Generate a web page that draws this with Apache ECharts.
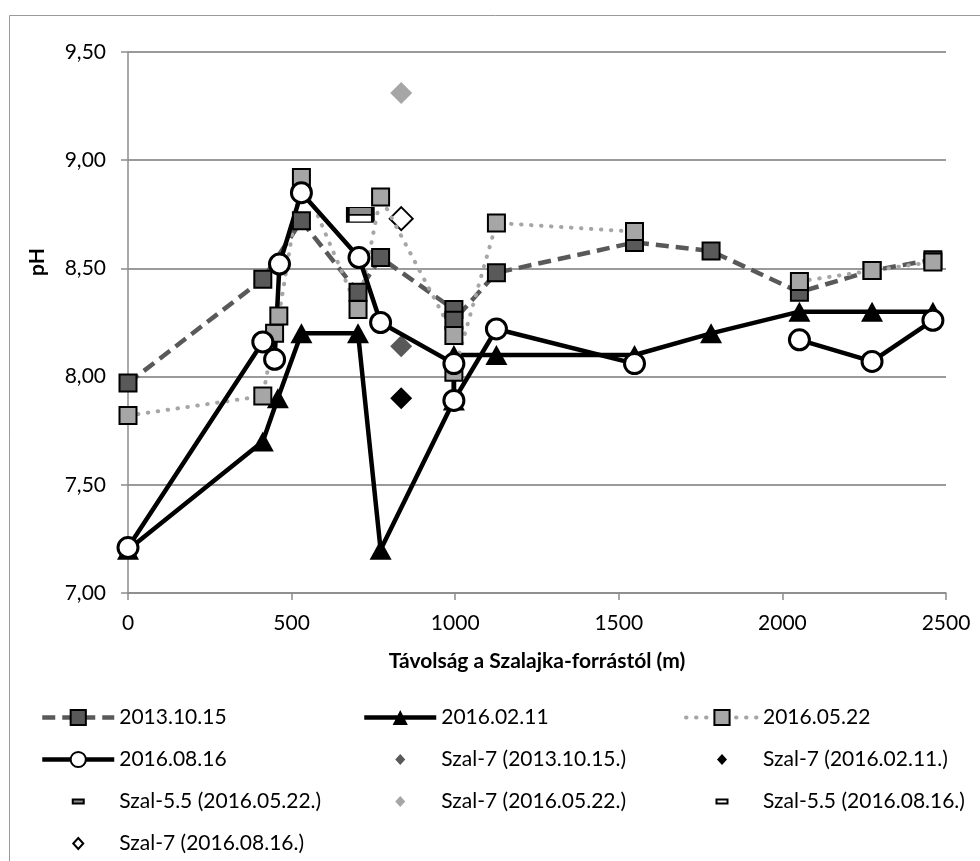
<!DOCTYPE html>
<html>
<head>
<meta charset="utf-8">
<script src="https://cdn.jsdelivr.net/npm/echarts@6/dist/echarts.min.js"></script>
<style>
html,body{margin:0;padding:0;background:#fff;}
#chart{width:980px;height:861px;}
</style>
</head>
<body>
<div id="chart"></div>
<script>
// ---- data (distance from Szalajka spring in m, pH) ----
const xTicks = [0, 500, 1000, 1500, 2000, 2500];
const yTicks = [7.0, 7.5, 8.0, 8.5, 9.0, 9.5];

const dist2013 = [0, 412, 530, 703, 772, 996, 996, 1126, 1548, 1782, 2052, 2274, 2460];
const ph2013   = [7.97, 8.45, 8.72, 8.39, 8.55, 8.31, 8.26, 8.48, 8.62, 8.58, 8.39, 8.49, 8.54];

const dist201602 = [0, 412, 458, 530, 703, 772, 996, 996, 1126, 1548, 1782, 2052, 2274, 2460];
const ph201602   = [7.20, 7.70, 7.90, 8.20, 8.20, 7.20, 7.89, 8.10, 8.10, 8.10, 8.20, 8.30, 8.30, 8.30];

const dist201605 = [0, 412, 448, 461, 530, 703, 772, 996, 996, 1126, 1548, 1782, 2052, 2274, 2460];
const ph201605   = [7.82, 7.91, 8.20, 8.28, 8.92, 8.31, 8.83, 8.19, 8.02, 8.71, 8.67, null, 8.44, 8.49, 8.53];

const dist201608 = [0, 412, 448, 463, 530, 706, 772, 996, 996, 1126, 1548, 1782, 2052, 2274, 2460];
const ph201608   = [7.21, 8.16, 8.08, 8.52, 8.85, 8.55, 8.25, 8.06, 7.89, 8.22, 8.06, null, 8.17, 8.07, 8.26];

const szal7Dist = 835;
const szal7_2013   = 8.14;
const szal7_201602 = 7.90;
const szal7_201605 = 9.31;
const szal7_201608 = 8.73;
const szal55Dist = 710;
const szal55_201605 = 8.765;
const szal55_201608 = 8.73;

const names = {
  s2013: '2013.10.15', s1602: '2016.02.11', s1605: '2016.05.22', s1608: '2016.08.16',
  z7_2013: 'Szal-7 (2013.10.15.)', z7_1602: 'Szal-7 (2016.02.11.)',
  z55_1605: 'Szal-5.5 (2016.05.22.)', z7_1605: 'Szal-7 (2016.05.22.)',
  z55_1608: 'Szal-5.5 (2016.08.16.)', z7_1608: 'Szal-7 (2016.08.16.)'
};

function pairs(xs, ys) {
  return xs.map((x, i) => [x, ys[i] === null ? '-' : ys[i]]);
}

const FONT = 'Lato';
const chart = echarts.init(document.getElementById('chart'), null, {renderer: 'canvas'});

const diamondIcon = 'path://M0,0M19,19M9.5,4L14.5,9.5L9.5,15L4.5,9.5Z';
const flatIcon = 'path://M0,0M19,19M4,7.5h11v4h-11z';

const legendCommon = {
  orient: 'vertical',
  itemWidth: 72,
  itemHeight: 19,
  itemGap: 21,
  padding: 0,
  selectedMode: false,
  lineStyle: {width: 'inherit', type: 'inherit'},
  textStyle: {fontFamily: FONT, fontSize: 21, color: '#000', lineHeight: 19}
};

const option = {
  animation: false,
  backgroundColor: '#fff',
  grid: {left: 128, right: 34, top: 52, bottom: 268, containLabel: false},
  xAxis: {
    type: 'value', min: 0, max: 2500, interval: 500,
    name: 'Távolság a Szalajka-forrástól (m)',
    nameLocation: 'middle', nameGap: 58,
    nameTextStyle: {fontFamily: FONT, fontSize: 21, fontWeight: 'bold', color: '#000'},
    axisLine: {show: true, lineStyle: {color: '#8c8c8c', width: 1.5}},
    axisTick: {show: true, length: 7, lineStyle: {color: '#8c8c8c', width: 1.5}},
    axisLabel: {fontFamily: FONT, fontSize: 21, color: '#000', margin: 20,
      formatter: v => xTicks.includes(v) ? String(v) : ''},
    splitLine: {show: false}
  },
  yAxis: {
    type: 'value', min: 7, max: 9.5, interval: 0.5,
    axisLine: {show: true, lineStyle: {color: '#8c8c8c', width: 1.5}},
    axisTick: {show: true, length: 7, lineStyle: {color: '#8c8c8c', width: 1.5}},
    axisLabel: {fontFamily: FONT, fontSize: 21, color: '#000', margin: 22,
      formatter: v => yTicks.some(t => Math.abs(t - v) < 1e-9) ? v.toFixed(2).replace('.', ',') : ''},
    splitLine: {show: true, lineStyle: {color: '#9a9a9a', width: 2}}
  },
  legend: [
    Object.assign({}, legendCommon, {left: 40, top: 707, data: [
      {name: names.s2013}, {name: names.s1608},
      {name: names.z55_1605, icon: flatIcon}, {name: names.z7_1608, icon: diamondIcon}]}),
    Object.assign({}, legendCommon, {left: 362, top: 707, data: [
      {name: names.s1602}, {name: names.z7_2013, icon: diamondIcon},
      {name: names.z7_1605, icon: diamondIcon}]}),
    Object.assign({}, legendCommon, {left: 684, top: 707, data: [
      {name: names.s1605}, {name: names.z7_1602, icon: diamondIcon},
      {name: names.z55_1608, icon: flatIcon}]})
  ],
  graphic: [
    {type: 'rect', z: -10, silent: true,
      shape: {x: 9.5, y: 15.5, width: 1000, height: 900},
      style: {fill: 'none', stroke: '#9a9a9a', lineWidth: 1}},
    {type: 'text', x: 37, y: 262, rotation: Math.PI / 2, silent: true,
      style: {text: 'pH', fontFamily: FONT, fontSize: 21, fontWeight: 'bold', fill: '#000',
        align: 'center', verticalAlign: 'middle'}}
  ],
  series: [
    {
      name: names.s2013, type: 'line', data: pairs(dist2013, ph2013),
      symbol: 'rect', symbolSize: 17, connectNulls: false,
      lineStyle: {color: '#595959', width: 4.5, type: [13, 7]},
      itemStyle: {color: '#595959', borderColor: '#000', borderWidth: 2}
    },
    {
      name: names.s1602, type: 'line', data: pairs(dist201602, ph201602),
      symbol: 'triangle', symbolSize: [22, 20], connectNulls: false,
      lineStyle: {color: '#000', width: 4.5},
      itemStyle: {color: '#000', borderColor: '#000', borderWidth: 0}
    },
    {
      name: names.s1605, type: 'line', data: pairs(dist201605, ph201605),
      symbol: 'rect', symbolSize: 17, connectNulls: false,
      lineStyle: {color: '#a6a6a6', width: 4, type: [0.5, 9.5], cap: 'round'},
      itemStyle: {color: '#a6a6a6', borderColor: '#000', borderWidth: 2}
    },
    {
      name: names.s1608, type: 'line', data: pairs(dist201608, ph201608),
      symbol: 'circle', symbolSize: 20, connectNulls: false,
      lineStyle: {color: '#000', width: 4.5},
      itemStyle: {color: '#fff', borderColor: '#000', borderWidth: 3}
    },
    {
      name: names.z7_2013, type: 'scatter', data: [[szal7Dist, szal7_2013]],
      symbol: 'diamond', symbolSize: 22,
      itemStyle: {color: '#595959', opacity: 1}
    },
    {
      name: names.z7_1602, type: 'scatter', data: [[szal7Dist, szal7_201602]],
      symbol: 'diamond', symbolSize: 22,
      itemStyle: {color: '#000', opacity: 1}
    },
    {
      name: names.z55_1605, type: 'scatter', data: [[szal55Dist, szal55_201605]],
      symbol: 'rect', symbolSize: [25, 7],
      itemStyle: {color: '#8c8c8c', borderColor: '#000', borderWidth: 2, opacity: 1}
    },
    {
      name: names.z7_1605, type: 'scatter', data: [[szal7Dist, szal7_201605]],
      symbol: 'diamond', symbolSize: 22,
      itemStyle: {color: '#a6a6a6', opacity: 1}
    },
    {
      name: names.z55_1608, type: 'scatter', data: [[szal55Dist, szal55_201608]],
      symbol: 'rect', symbolSize: [25, 7],
      itemStyle: {color: '#fff', borderColor: '#000', borderWidth: 2, opacity: 1}
    },
    {
      name: names.z7_1608, type: 'scatter', data: [[szal7Dist, szal7_201608]],
      symbol: 'diamond', symbolSize: 23,
      itemStyle: {color: '#fff', borderColor: '#000', borderWidth: 2, opacity: 1}
    }
  ]
};
chart.setOption(option);
</script>
</body>
</html>
